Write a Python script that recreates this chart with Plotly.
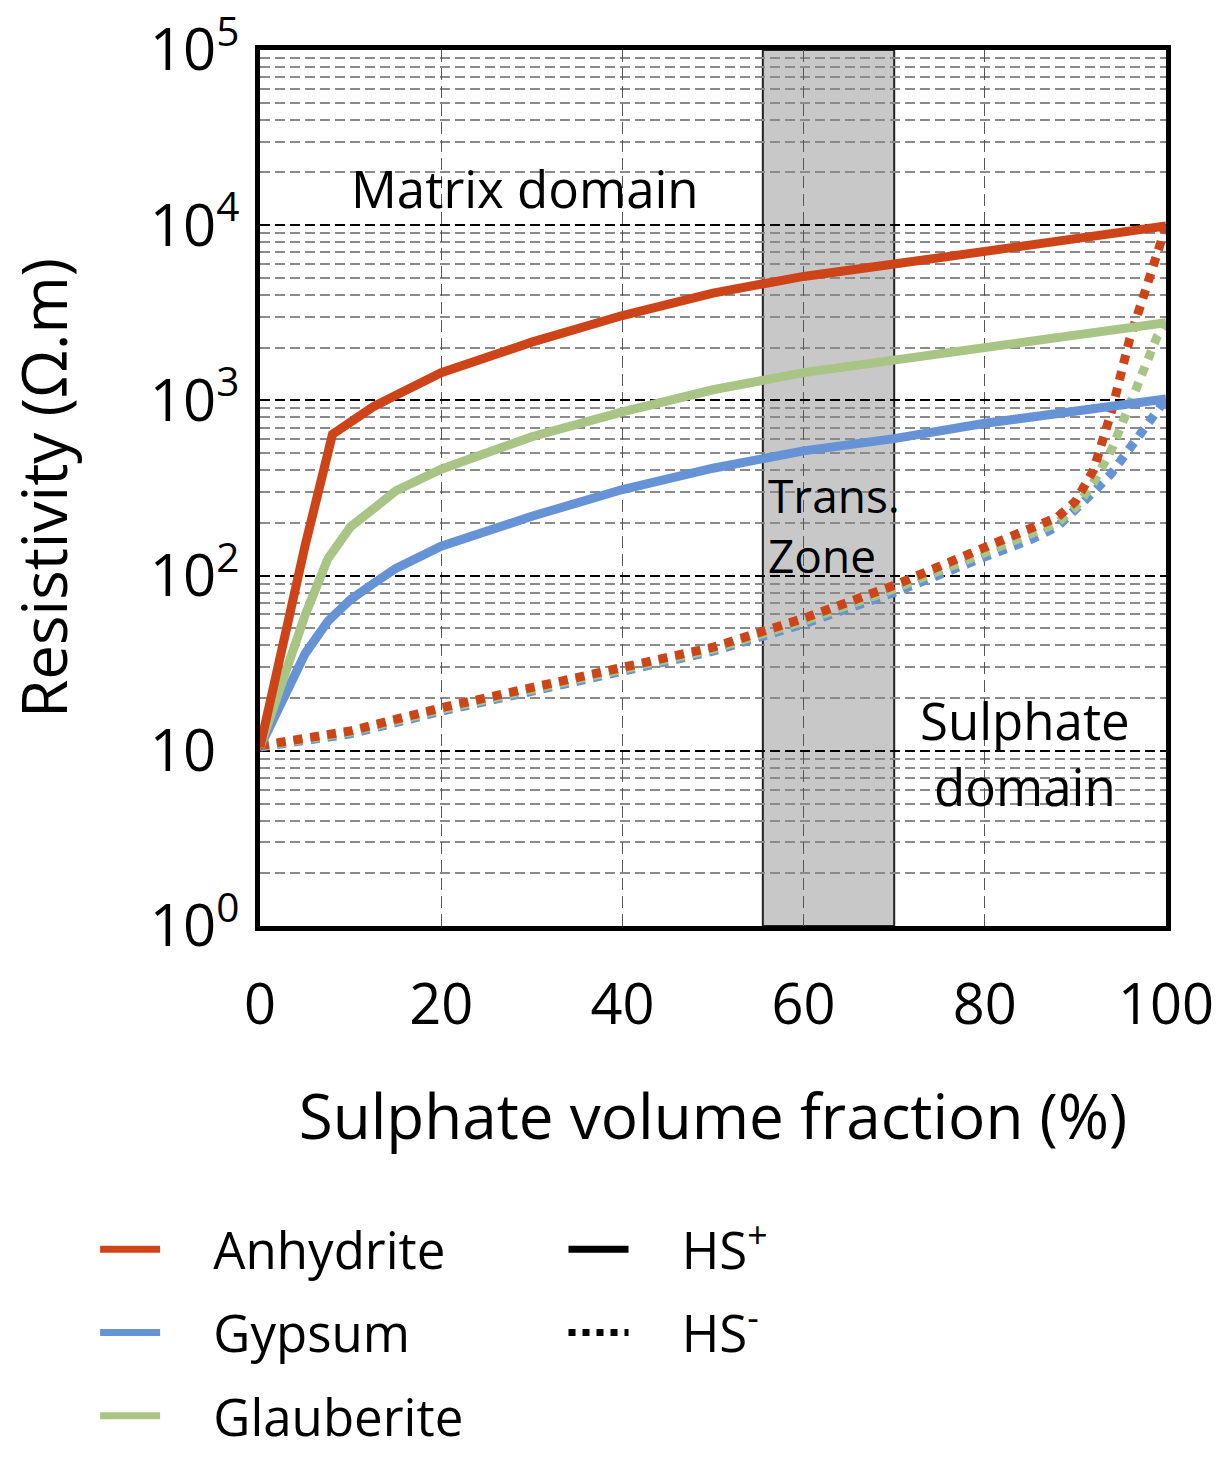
import plotly.graph_objects as go

# ---------------- data ----------------
# HS+ (upper Hashin-Shtrikman bound)
x_anh_plus = [0, 2.5, 5, 8, 10, 12.5, 15, 20, 30, 40, 50, 60, 70, 80, 90, 100]
anh_plus = [10.5, 40, 150, 640, 760, 920, 1070, 1440, 2150, 3050, 4100, 5100, 6000, 7100, 8500, 9900]

x_gla_plus = [0, 2.5, 5, 7.5, 10, 12.5, 15, 20, 30, 40, 50, 60, 70, 80, 90, 100]
gla_plus = [10.5, 25, 60, 125, 190, 240, 305, 405, 620, 860, 1150, 1440, 1700, 1970, 2340, 2780]

x_gyp_plus = [0, 2.5, 5, 7.5, 10, 12.5, 15, 20, 30, 40, 50, 60, 70, 80, 90, 100]
gyp_plus = [10.5, 19, 36, 55, 73, 90, 110, 147, 218, 310, 410, 515, 605, 740, 880, 1020]

# HS- (lower Hashin-Shtrikman bound)
x_minus = [0, 10, 20, 30, 40, 50, 60, 70, 80, 85, 88, 90, 92, 94, 96, 98, 99, 100]
anh_minus = [10.7, 13, 17.6, 23, 30, 39, 57, 88, 145, 183, 215, 265, 400, 870, 2250, 4700, 7000, 9900]
gla_minus = [10.6, 12.8, 17.2, 22.5, 29, 38, 55, 84, 135, 172, 200, 245, 340, 525, 930, 1700, 2300, 2780]
gyp_minus = [10.5, 12.5, 16.8, 22, 28.5, 37, 53, 80, 128, 160, 190, 235, 300, 385, 540, 760, 880, 1020]

minerals = ["Anhydrite", "Gypsum", "Glauberite"]
colors = {"Anhydrite": "#CC4418", "Gypsum": "#6692D6", "Glauberite": "#A8C585"}

trans_zone = [55.5, 70]

x_ticks = [0, 20, 40, 60, 80, 100]
y_ticks = [1, 10, 100, 1000, 10000, 100000]
y_ticktext = ["10<sup>0</sup>", "10<sup>\u2007</sup>", "10<sup>2</sup>", "10<sup>3</sup>",
              "10<sup>4</sup>", "10<sup>5</sup>"]
minor_vals = [m * 10 ** k for k in range(0, 5) for m in range(2, 10)]

FONT = "Open Sans"
PAD = "\u00a0\u00a0\u00a0\u2009"

fig = go.Figure()

lw = 9
DOT = "9px,8px"
series_minus = {"Gypsum": gyp_minus, "Glauberite": gla_minus, "Anhydrite": anh_minus}
for name in ["Gypsum", "Glauberite", "Anhydrite"]:
    fig.add_trace(go.Scatter(x=x_minus, y=series_minus[name], mode="lines",
                             line=dict(color=colors[name], width=lw, dash=DOT),
                             showlegend=False, hoverinfo="skip"))
series_plus = {"Gypsum": (x_gyp_plus, gyp_plus), "Glauberite": (x_gla_plus, gla_plus),
               "Anhydrite": (x_anh_plus, anh_plus)}
for name in ["Gypsum", "Glauberite", "Anhydrite"]:
    xs, ys = series_plus[name]
    fig.add_trace(go.Scatter(x=xs, y=ys, mode="lines",
                             line=dict(color=colors[name], width=lw),
                             showlegend=False, hoverinfo="skip"))

# legend entries
for name in minerals:
    fig.add_trace(go.Scatter(x=[None], y=[None], mode="lines", name=PAD + name,
                             line=dict(color=colors[name], width=7),
                             legend="legend", legendgroup=name))
fig.add_trace(go.Scatter(x=[None], y=[None], mode="lines", name=PAD + "HS<sup>+</sup>",
                         line=dict(color="black", width=7), legend="legend2", legendgroup="p"))
fig.add_trace(go.Scatter(x=[None], y=[None], mode="lines", name=PAD + "HS<sup>-</sup>",
                         line=dict(color="black", width=7, dash="7px,7px"), legend="legend2",
                         legendgroup="m"))

fig.add_shape(type="rect", xref="x", yref="y", x0=trans_zone[0], x1=trans_zone[1],
              y0=1, y1=100000, fillcolor="#C8C8C8", line=dict(color="#222222", width=2),
              layer="below")

fig.add_annotation(x=29.3, y=4.21, xref="x", yref="y", text="Matrix domain",
                   showarrow=False, font=dict(family=FONT, size=51, color="black"))
fig.add_annotation(x=55.8, y=2.29, xref="x", yref="y", text="Trans.<br>Zone",
                   showarrow=False, font=dict(family=FONT, size=46, color="black"),
                   xanchor="left", align="left")
fig.add_annotation(x=84.4, y=0.985, xref="x", yref="y", text="Sulphate<br>domain",
                   showarrow=False, font=dict(family=FONT, size=51, color="black"),
                   align="center")

fig.update_layout(
    width=1220, height=1468,
    margin=dict(l=260, r=54, t=50, b=522),
    paper_bgcolor="white", plot_bgcolor="white",
    font=dict(family=FONT, color="black"),
    legend=dict(x=-0.182, y=-0.3237, xanchor="left", yanchor="top",
                font=dict(family=FONT, size=51), tracegroupgap=14, itemwidth=60,
                bgcolor="rgba(0,0,0,0)"),
    legend2=dict(x=0.335, y=-0.3237, xanchor="left", yanchor="top",
                 font=dict(family=FONT, size=51), tracegroupgap=14, itemwidth=60,
                 bgcolor="rgba(0,0,0,0)"),
)

fig.update_xaxes(range=[0, 100], tickvals=x_ticks, ticktext=[str(v) for v in x_ticks],
                 tickfont=dict(family=FONT, size=56), ticks="", ticklabelstandoff=26,
                 ticklabeloverflow="allow",
                 showline=True, linewidth=5, linecolor="black", mirror=True,
                 showgrid=True, gridcolor="#555555", gridwidth=1.2, griddash="12px,6px",
                 zeroline=False, automargin=False,
                 title=dict(text="Sulphate volume fraction (%)", standoff=58,
                            font=dict(family=FONT, size=62)))
fig.update_yaxes(type="log", range=[0, 5], tickvals=y_ticks, ticktext=y_ticktext,
                 tickfont=dict(family=FONT, size=58), ticks="", ticklabelstandoff=4,
                 ticklabeloverflow="allow",
                 showline=True, linewidth=5, linecolor="black", mirror=True,
                 showgrid=True, gridcolor="black", gridwidth=1.5, griddash="10px,5px",
                 minor=dict(tickvals=minor_vals, showgrid=True, gridcolor="#8a8a8a",
                            gridwidth=1.5, griddash="10px,5px", ticks=""),
                 zeroline=False, automargin=False,
                 title=dict(text="Resistivity (Ω.m)", standoff=64,
                            font=dict(family=FONT, size=62)))

fig.write_html("out.html", config={"displayModeBar": False},
               post_script="document.body.style.margin='0';document.body.style.overflow='hidden';")
